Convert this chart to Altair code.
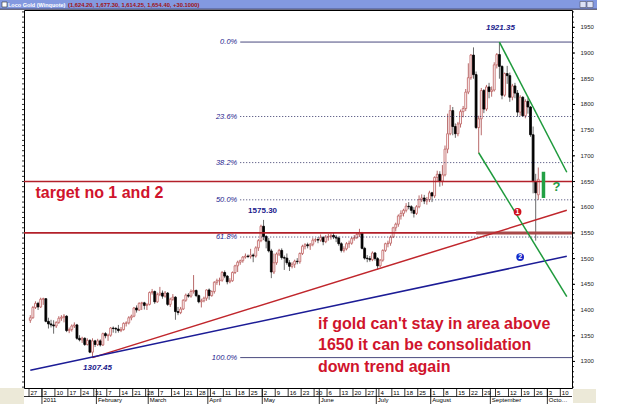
import altair as alt
import pandas as pd

W, H = 548, 378
FONT = "Liberation Sans"

# ---------------- daily candles (open, high, low, close) ----------------
dec10 = [(1380,1390,1375,1385),(1385,1408,1383,1405),(1405,1417,1402,1413),(1413,1416,1400,1406),(1406,1424,1404,1421)]
jan11 = [(1421,1424,1410,1422),(1422,1423,1376,1378),(1378,1385,1364,1373),(1373,1381,1366,1371),(1371,1380,1354,1369),
         (1369,1378,1365,1376),(1376,1388,1373,1384),(1384,1390,1379,1386),(1386,1392,1376,1388),(1388,1390,1357,1360),
         (1360,1366,1355,1362),(1362,1372,1358,1369),(1369,1376,1365,1371),(1371,1373,1342,1345),(1345,1351,1339,1342),
         (1342,1348,1336,1345),(1345,1347,1330,1333),(1333,1345,1331,1341),(1341,1343,1316,1318),(1318,1345,1307.45,1340),
         (1340,1342,1328,1333)]
feb11 = [(1333,1344,1330,1340),(1340,1343,1329,1332),(1332,1356,1330,1354),(1354,1357,1345,1350),(1350,1354,1340,1351),
         (1351,1367,1348,1365),(1365,1368,1356,1364),(1364,1367,1355,1363),(1363,1371,1356,1360),(1360,1367,1357,1362),
         (1362,1376,1360,1374),(1374,1378,1368,1375),(1375,1388,1372,1385),(1385,1391,1380,1388),(1388,1406,1386,1404),
         (1404,1409,1395,1400),(1400,1415,1398,1413),(1413,1416,1400,1414),(1414,1416,1401,1409),(1409,1413,1400,1411)]
mar11 = [(1411,1436,1409,1434),(1434,1441,1430,1436),(1436,1438,1412,1416),(1416,1434,1414,1430),(1430,1445,1427,1433),
         (1433,1438,1422,1427),(1427,1437,1424,1433),(1433,1435,1408,1411),(1411,1424,1406,1421),(1421,1431,1418,1425),
         (1425,1427,1381,1397),(1397,1406,1390,1395),(1395,1406,1392,1402),(1402,1421,1400,1419),(1419,1432,1416,1429),
         (1429,1433,1424,1427),(1427,1440,1424,1436),(1436,1468,1432,1438),(1438,1440,1425,1428),(1428,1430,1413,1416),
         (1416,1422,1405,1418),(1418,1426,1415,1423),(1423,1440,1418,1439)]
apr11 = [(1439,1442,1420,1428),(1428,1438,1426,1436),(1436,1456,1432,1454),(1454,1461,1449,1457),(1457,1463,1448,1458),
         (1458,1476,1455,1473),(1473,1477,1462,1466),(1466,1468,1450,1455),(1455,1462,1452,1457),(1457,1475,1455,1473),
         (1473,1488,1470,1486),(1486,1496,1474,1493),(1493,1498,1488,1496),(1496,1505,1492,1503),(1503,1510,1500,1505),
         (1505,1508,1501,1504),(1504,1519,1500,1507),(1507,1510,1493,1505),(1505,1524,1502,1521),(1521,1538,1515,1535),
         (1535,1566,1532,1563)]
may11 = [(1563,1575.3,1536,1543),(1543,1546,1520,1534),(1534,1540,1512,1515),(1515,1519,1462,1474),(1474,1510,1470,1492),
         (1492,1512,1488,1509),(1509,1519,1505,1516),(1516,1520,1498,1502),(1502,1506,1478,1501),(1501,1510,1488,1492),
         (1492,1497,1476,1485),(1485,1493,1481,1489),(1489,1498,1482,1495),(1495,1501,1489,1494),(1494,1512,1490,1510),
         (1510,1527,1507,1524),(1524,1530,1518,1527),(1527,1531,1520,1525),(1525,1530,1517,1528),(1528,1540,1524,1536),
         (1536,1540,1532,1537),(1537,1542,1530,1536)]
jun11 = [(1536,1547,1533,1541),(1541,1544,1526,1533),(1533,1546,1530,1542),(1542,1548,1535,1543),(1543,1549,1537,1545),
         (1545,1550,1538,1542),(1542,1546,1532,1540),(1540,1543,1525,1529),(1529,1532,1512,1516),(1516,1524,1512,1519),
         (1519,1532,1516,1529),(1529,1535,1521,1530),(1530,1542,1527,1539),(1539,1546,1535,1541),(1541,1550,1538,1547),
         (1547,1558,1542,1550),(1550,1552,1518,1520),(1520,1523,1498,1501),(1501,1507,1493,1500),(1500,1505,1494,1498),
         (1498,1514,1495,1511),(1511,1513,1496,1500)]
jul11 = [(1500,1503,1478,1486),(1486,1499,1483,1497),(1497,1518,1494,1516),(1516,1531,1513,1529),(1529,1535,1522,1530),
         (1530,1545,1525,1542),(1542,1562,1540,1560),(1560,1570,1553,1567),(1567,1586,1562,1583),(1583,1594,1576,1588),
         (1588,1597,1582,1594),(1594,1608,1590,1602),(1602,1610,1596,1601),(1601,1604,1588,1594),(1594,1600,1580,1588),
         (1588,1604,1585,1601),(1601,1623,1598,1615),(1615,1625,1610,1618),(1618,1624,1606,1612),(1612,1620,1605,1615),
         (1615,1632,1610,1628)]
aug11 = [(1628,1630,1610,1622),(1622,1660,1618,1658),(1658,1671,1650,1664),(1664,1670,1640,1651),(1651,1682,1642,1663),
         (1663,1720,1660,1713),(1713,1782,1705,1743),(1743,1799,1740,1788),(1788,1795,1740,1757),(1757,1763,1735,1743),
         (1743,1766,1738,1762),(1762,1790,1755,1786),(1786,1797,1775,1792),(1792,1830,1787,1824),(1824,1880,1820,1852),
         (1852,1898,1848,1896),(1896,1911,1850,1858),(1858,1864,1752,1755),(1755,1778,1705,1772),(1772,1832,1740,1827),
         (1827,1830,1783,1791),(1791,1838,1787,1834),(1834,1842,1812,1825)]
sep11 = [(1825,1835,1815,1828),(1828,1882,1825,1877),(1877,1900,1870,1897),(1897,1921.35,1850,1874),(1874,1876,1810,1818),
         (1818,1862,1815,1860),(1860,1875,1840,1856),(1856,1862,1805,1814),(1814,1840,1808,1836),(1836,1842,1812,1822),
         (1822,1828,1776,1785),(1785,1818,1778,1814),(1814,1816,1776,1778),(1778,1810,1773,1806),(1806,1812,1782,1795),
         (1795,1797,1737,1741),(1741,1757,1627,1650),(1650,1665,1535,1628),(1624.2,1677.3,1614.25,1654.4)]

months = [("2010-12-27", "2010-12-31", dec10), ("2011-01-01", "2011-01-31", jan11),
          ("2011-02-01", "2011-02-28", feb11), ("2011-03-01", "2011-03-31", mar11),
          ("2011-04-01", "2011-04-30", apr11), ("2011-05-01", "2011-05-31", may11),
          ("2011-06-01", "2011-06-30", jun11), ("2011-07-01", "2011-07-31", jul11),
          ("2011-08-01", "2011-08-31", aug11), ("2011-09-01", "2011-09-27", sep11)]

# ---------------- axis labels ----------------
price_ticks = [1300, 1350, 1400, 1450, 1500, 1550, 1600, 1650, 1700, 1750, 1800, 1850, 1900, 1950]
week_labels = ["27","3","10","17","24","31","7","14","21","28","7","14","21","28","4","11","18","25",
               "2","9","16","23","30","6","13","20","27","4","11","18","25","1","8","15","22","29",
               "5","12","19","26","3","10"]
month_names = ["2011","February","March","April","May","June","July","August","September","October"]
month_first = ["2011-01-03","2011-02-01","2011-03-01","2011-04-01","2011-05-02","2011-06-01",
               "2011-07-01","2011-08-01","2011-09-01","2011-10-03"]

# ---------------- analysis drawings ----------------
fib_labels = ["0.0%", "23.6%", "38.2%", "50.0%", "61.8%", "100.0%"]
fib_values = [1921.35, 1776.5, 1686.8, 1614.4, 1542.0, 1307.45]
fib_solid = [True, False, False, False, False, True]
fib_start = "2011-04-19"
target_levels = [1650, 1550]
trend_red = [("2011-01-28", 1307.45), ("2011-10-12", 1594.0)]
trend_blue = [("2010-12-27", 1283.0), ("2011-10-12", 1504.5)]
channel_up = [("2011-09-06", 1921.35), ("2011-10-12", 1668.0)]
channel_lo = [("2011-08-25", 1706.0), ("2011-10-12", 1426.0)]

# ---------------- build tables ----------------
cal = pd.bdate_range("2010-12-27", "2011-10-31")
slot = {d.strftime("%Y-%m-%d"): i for i, d in enumerate(cal)}

rows = []
for start, end, vals in months:
    days = pd.bdate_range(start, end)
    assert len(days) == len(vals), (start, len(days), len(vals))
    for d, (o, h, l, c) in zip(days, vals):
        k = d.strftime("%Y-%m-%d")
        rows.append({"date": k, "t": slot[k], "open": o, "high": h, "low": l, "close": c,
                     "dir": "up" if c >= o else "down"})
candles = pd.DataFrame(rows)

week_dates = pd.date_range("2010-12-27", periods=len(week_labels), freq="7D")
weeks = pd.DataFrame({"t": [slot[d.strftime("%Y-%m-%d")] - 0.5 for d in week_dates], "lab": week_labels})
mons = pd.DataFrame({"t": [slot[d] - 0.5 for d in month_first], "lab": month_names})

fib = pd.DataFrame({"lab": fib_labels, "v": fib_values, "solid": fib_solid, "t": slot[fib_start]})
levels = pd.DataFrame({"v": target_levels})

X = alt.Scale(domain=[-0.5, -0.5 + W / 2.64], nice=False, zero=False)
Y = alt.Scale(domain=[1248.3, 1983.7], nice=False, zero=False)
one = alt.Data(values=[{}])


def xq(f="t"):
    return alt.X(f"{f}:Q", scale=X, axis=None)


def yq(f="v"):
    return alt.Y(f"{f}:Q", scale=Y, axis=None)


def seg(points, color, width=1.5):
    d = pd.DataFrame([{"t": slot[a], "v": v} for a, v in points])
    return alt.Chart(d).mark_line(color=color, strokeWidth=width).encode(x=xq(), y=yq())


# ---------------- layers ----------------
wick = alt.Chart(candles).mark_rule(strokeWidth=1).encode(
    x=xq(),
    y=alt.Y("low:Q", scale=Y, axis=alt.Axis(values=price_ticks, tickSize=3, labelPadding=1.5,
                                             labelFontSize=6, labelFont=FONT, labelColor="#222",
                                             domain=False, grid=False, title=None, tickColor="#000",
                                             labelFlush=False, labelOverlap=False)),
    y2="high:Q",
    color=alt.Color("dir:N", scale=alt.Scale(domain=["up", "down"], range=["#b86a6a", "#6a6a6a"]), legend=None),
)
body = alt.Chart(candles).mark_bar(size=1.9, strokeWidth=0.8).encode(
    x=xq(), y=yq("open"), y2="close:Q",
    fill=alt.Fill("dir:N", scale=alt.Scale(domain=["up", "down"], range=["#ffffff", "#000000"]), legend=None),
    stroke=alt.Stroke("dir:N", scale=alt.Scale(domain=["up", "down"], range=["#bf5f5f", "#000000"]), legend=None),
)

fib_solid_l = alt.Chart(fib[fib.solid]).mark_rule(color="#4a4a7e", strokeWidth=1).encode(
    x=xq(), x2=alt.value(W), y=yq())
fib_dot_l = alt.Chart(fib[~fib.solid]).mark_rule(color="#3c3c6c", strokeWidth=1, strokeDash=[1, 2]).encode(
    x=xq(), x2=alt.value(W), y=yq())
fib_txt = alt.Chart(fib).mark_text(align="right", baseline="middle", dx=-3, fontSize=7.5, font=FONT,
                                   fontStyle="italic", color="#1a1a8c").encode(x=xq(), y=yq(), text="lab:N")

lvl = alt.Chart(levels).mark_rule(color="#b3202a", strokeWidth=1.6).encode(
    x=alt.value(0), x2=alt.value(W), y=yq())
lvl_thick = alt.Chart(pd.DataFrame({"t": [slot["2011-08-24"]], "v": [1550]})).mark_rule(
    color="#a84848", strokeWidth=3).encode(x=xq(), x2=alt.value(W), y=yq())

red_line = seg(trend_red, "#c0262c")
blue_line = seg(trend_blue, "#1c1c96")
g_up = seg(channel_up, "#1e9a3c")
g_lo = seg(channel_lo, "#1e9a3c")

gbar = alt.Chart(pd.DataFrame({"t": [slot["2011-09-29"]], "lo": [1618], "hi": [1669]})).mark_rule(
    color="#22a044", strokeWidth=3.5).encode(x=xq(), y=yq("lo"), y2="hi:Q")
qmark = alt.Chart(pd.DataFrame({"t": [slot["2011-10-06"]], "v": [1640], "lab": ["?"]})).mark_text(
    fontSize=13, fontWeight="bold", font=FONT, color="#229944").encode(x=xq(), y=yq(), text="lab:N")


def badge(date, v, lab, color):
    d = pd.DataFrame({"t": [slot[date]], "v": [v], "lab": [lab]})
    c = alt.Chart(d).mark_circle(size=60, opacity=1, color=color).encode(x=xq(), y=yq())
    t = alt.Chart(d).mark_text(fontSize=7, fontWeight="bold", font=FONT, color="white").encode(
        x=xq(), y=yq(), text="lab:N")
    return [c, t]


def note(date, v, lab, **kw):
    d = pd.DataFrame({"t": [slot[date]], "v": [v], "lab": [lab]})
    return alt.Chart(d).mark_text(font=FONT, **kw).encode(x=xq(), y=yq(), text="lab:N")


blue = "#1a1a8c"
red = "#d0142c"
notes = [
    note("2011-09-06", 1921.35, "1921.35", dy=-14, dx=1, fontSize=8, fontWeight="bold", fontStyle="italic", color=blue),
    note("2011-05-02", 1575.3, "1575.30", dy=-9, dx=-1, fontSize=8, fontWeight="bold", color=blue),
    note("2011-01-28", 1307.45, "1307.45", dy=10, dx=5, fontSize=8, fontWeight="bold", fontStyle="italic", color=blue),
    note("2010-12-29", 1627, "target no 1 and 2", align="left", fontSize=16, fontWeight="bold", color=red),
    note("2011-05-31", 1372.8, "if gold can't stay in area above", align="left", fontSize=16, fontWeight="bold", color=red),
    note("2011-05-31", 1332, "1650 it can be consolidation", align="left", fontSize=16, fontWeight="bold", color=red),
    note("2011-05-31", 1289, "down trend again", align="left", fontSize=16, fontWeight="bold", color=red),
]

# right axis + minor ticks
rt = pd.DataFrame({"v": price_ticks})
minor = pd.DataFrame({"v": list(range(1250, 1990, 10))})
r_lab = alt.Chart(rt).mark_text(align="left", baseline="middle", fontSize=6, font=FONT, color="#222").encode(
    x=alt.value(W + 8.5), y=yq(), text="v:N")
r_tick = alt.Chart(rt).mark_rule(color="#000").encode(x=alt.value(W), x2=alt.value(W + 3), y=yq())
m_r = alt.Chart(minor).mark_rule(color="#000", strokeWidth=0.8).encode(x=alt.value(W), x2=alt.value(W + 2), y=yq())
m_l = alt.Chart(minor).mark_rule(color="#000", strokeWidth=0.8).encode(x=alt.value(-2), x2=alt.value(0), y=yq())

# bottom date table
beige = "#ece9d8"
bl = alt.Chart(one).mark_rect(color=beige).encode(x=alt.value(-24), x2=alt.value(0), y=alt.value(H), y2=alt.value(H + 16))
br = alt.Chart(one).mark_rect(color=beige).encode(x=alt.value(W + 1), x2=alt.value(W + 24), y=alt.value(H + 1), y2=alt.value(H + 15))
row_line = alt.Chart(one).mark_rule(color="#000", strokeWidth=0.8).encode(
    x=alt.value(0), x2=alt.value(W), y=alt.value(H + 8.5))
w_sep = alt.Chart(weeks).mark_rule(color="#000", strokeWidth=0.8).encode(x=xq(), y=alt.value(H), y2=alt.value(H + 8.5))
w_txt = alt.Chart(weeks).mark_text(align="left", baseline="middle", dx=1.5, fontSize=6, font=FONT, color="#000").encode(
    x=xq(), y=alt.value(H + 4.7), text="lab:N")
m_sep = alt.Chart(mons).mark_rule(color="#000", strokeWidth=0.8).encode(x=xq(), y=alt.value(H), y2=alt.value(H + 16))
m_txt = alt.Chart(mons.iloc[:-1]).mark_text(align="left", baseline="middle", dx=1.5, fontSize=6, font=FONT,
                                            color="#000").encode(x=xq(), y=alt.value(H + 12.3), text="lab:N")
m_txt_last = alt.Chart(mons.iloc[-1:]).mark_text(align="left", baseline="middle", dx=1.5, fontSize=6, font=FONT,
                                                 color="#000", limit=19, ellipsis="").encode(
    x=xq(), y=alt.value(H + 12.3), text="lab:N")

# window title bar
tbar = alt.Chart(one).mark_rect(color="#8399e0").encode(x=alt.value(-24), x2=alt.value(W + 25), y=alt.value(-10), y2=alt.value(-1))
tline = alt.Chart(one).mark_rule(color="#2b2b4b").encode(x=alt.value(-24), x2=alt.value(W + 25), y=alt.value(-0.8))
ticon = alt.Chart(one).mark_rect(color="white", stroke="#333", strokeWidth=0.6).encode(
    x=alt.value(-22), x2=alt.value(-17), y=alt.value(-8), y2=alt.value(-3))
tb1 = alt.Chart(one).mark_rect(color="#dde3f7", stroke="#556", strokeWidth=0.6).encode(
    x=alt.value(W + 8), x2=alt.value(W + 14), y=alt.value(-8.5), y2=alt.value(-2.5))
tb2 = alt.Chart(one).mark_rect(color="#dde3f7", stroke="#556", strokeWidth=0.6).encode(
    x=alt.value(W + 15), x2=alt.value(W + 21), y=alt.value(-8.5), y2=alt.value(-2.5))
ttxt = alt.Chart(one).mark_text(align="left", baseline="middle", fontSize=5.5, fontWeight="bold", font=FONT,
                                color="white").encode(x=alt.value(-16), y=alt.value(-5.2),
                                                      text=alt.value("Loco Gold (Winquote)"))
ttxt2 = alt.Chart(one).mark_text(align="left", baseline="middle", fontSize=5.8, fontWeight="bold", font=FONT,
                                 color="#a01010").encode(x=alt.value(44), y=alt.value(-5.2),
                                                         text=alt.value("(1,624.20, 1,677.30, 1,614.25, 1,654.40, +30.1000)"))

chart = alt.layer(
    wick, body,
    fib_solid_l, fib_dot_l, fib_txt,
    lvl, lvl_thick, red_line, blue_line, g_up, g_lo, gbar, qmark,
    *badge("2011-09-15", 1591, "1", "#d0101c"),
    *badge("2011-09-16", 1503, "2", "#1428c8"),
    *notes,
    r_lab, r_tick, m_r, m_l,
    bl, br, row_line, w_sep, w_txt, m_sep, m_txt, m_txt_last,
    tbar, tline, ticon, tb1, tb2, ttxt, ttxt2,
).properties(
    width=W, height=H,
    padding={"left": 24, "top": 10, "right": 53, "bottom": 32},
    autosize=alt.AutoSizeParams(type="none"),
).configure(background="white").configure_view(stroke="#000", strokeWidth=1)

chart.save("out.html", embed_options={"renderer": "svg", "actions": False})
